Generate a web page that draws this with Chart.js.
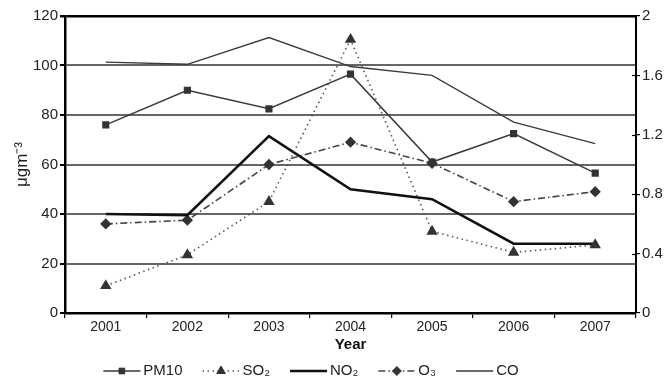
<!DOCTYPE html>
<html>
<head>
<meta charset="utf-8">
<script src="https://cdn.jsdelivr.net/npm/chart.js@4/dist/chart.umd.min.js"></script>
<style>
  html, body { margin: 0; padding: 0; background: #fff; }
  #wrap { width: 666px; height: 383px; position: relative; }
</style>
</head>
<body>
<div id="wrap"><canvas id="c"></canvas></div>
<script>
// Annual mean concentrations, 2001-2007
const years = ['2001', '2002', '2003', '2004', '2005', '2006', '2007'];
const pm10  = [76, 90, 82.5, 96.5, 61, 72.5, 56.5];
const so2   = [11, 23.5, 45, 110.5, 33, 24.5, 27.5];
const no2   = [40, 39.5, 71.5, 50, 46, 28, 28];
const o3    = [36, 37.5, 60, 69, 60.5, 45, 49];
const co    = [1.69, 1.675, 1.855, 1.66, 1.6, 1.285, 1.14];   // right axis
const seriesNames = ['PM10', 'SO₂', 'NO₂', 'O₃', 'CO'];

const FONT = "'Liberation Sans', Arial, sans-serif";

// Legend row under the axis title: line sample with its marker, then the name
const seriesLegend = {
  id: 'seriesLegend',
  afterDraw(chart) {
    const ctx = chart.ctx;
    const y = chart.height - 12;
    const lineLen = 37, textGap = 3, itemGap = 20;
    ctx.save();
    ctx.font = '15px ' + FONT;
    const items = chart.data.datasets.map(ds => ({ ds, w: ctx.measureText(ds.label).width }));
    const total = items.reduce((a, it) => a + lineLen + textGap + it.w, 0) + itemGap * (items.length - 1);
    let x = 311 - total / 2;
    items.forEach(({ ds, w }) => {
      ctx.save();
      ctx.strokeStyle = ds.borderColor;
      ctx.lineWidth = ds.borderWidth;
      ctx.setLineDash(ds.borderDash || []);
      ctx.beginPath();
      ctx.moveTo(x, y);
      ctx.lineTo(x + lineLen, y);
      ctx.stroke();
      ctx.setLineDash([]);
      if (ds.pointRadius > 0) {
        ctx.fillStyle = ds.pointBackgroundColor;
        ctx.strokeStyle = ds.pointBorderColor;
        ctx.lineWidth = 1;
        Chart.helpers.drawPoint(ctx, { pointStyle: ds.pointStyle, radius: ds.pointRadius, rotation: 0, borderWidth: 1 },
          x + lineLen / 2, y);
      }
      ctx.restore();
      ctx.fillStyle = '#222';
      ctx.textBaseline = 'middle';
      ctx.textAlign = 'left';
      ctx.fillText(ds.label, x + lineLen + textGap, y);
      x += lineLen + textGap + w + itemGap;
    });
    // right-hand axis ticks cross the axis line
    const r = chart.scales.y1;
    ctx.strokeStyle = '#000';
    ctx.lineWidth = 1.2;
    r.ticks.forEach(t => {
      const ty = Math.round(r.getPixelForValue(t.value)) + 0.5;
      ctx.beginPath();
      ctx.moveTo(r.left - 4, ty);
      ctx.lineTo(r.left, ty);
      ctx.stroke();
    });
    ctx.restore();
  }
};

new Chart(document.getElementById('c'), {
  type: 'line',
  data: {
    labels: years,
    datasets: [
      { label: seriesNames[0], data: pm10, yAxisID: 'y', borderColor: '#3a3a3a', borderWidth: 1.5,
        pointStyle: 'rect', pointRadius: 4, pointBackgroundColor: '#333', pointBorderColor: '#333', tension: 0 },
      { label: seriesNames[1], data: so2, yAxisID: 'y', borderColor: '#555', borderWidth: 1.6, borderDash: [1.5, 3.5],
        pointStyle: 'triangle', pointRadius: 5, pointBackgroundColor: '#333', pointBorderColor: '#333', tension: 0 },
      { label: seriesNames[2], data: no2, yAxisID: 'y', borderColor: '#111', borderWidth: 2.6,
        pointRadius: 0, tension: 0 },
      { label: seriesNames[3], data: o3, yAxisID: 'y', borderColor: '#444', borderWidth: 1.6, borderDash: [7, 3, 1.5, 3],
        pointStyle: 'rectRot', pointRadius: 4.5, pointBackgroundColor: '#333', pointBorderColor: '#333', tension: 0 },
      { label: seriesNames[4], data: co, yAxisID: 'y1', borderColor: '#3a3a3a', borderWidth: 1.3,
        pointRadius: 0, tension: 0 }
    ]
  },
  options: {
    responsive: true,
    maintainAspectRatio: false,
    animation: false,
    layout: { padding: { top: 16, right: 0, left: 0, bottom: 27 } },
    plugins: {
      tooltip: { enabled: false },
      legend: { display: false }
    },
    scales: {
      x: {
        offset: true,
        grid: { offset: true, drawOnChartArea: false, tickLength: 5, color: '#000', lineWidth: 1.2 },
        border: { display: true, color: '#000', width: 2.5 },
        ticks: { color: '#222', font: { family: FONT, size: 14 }, padding: 1, maxRotation: 0 },
        title: { display: true, text: 'Year', color: '#111', font: { family: FONT, size: 15, weight: 'bold' }, padding: { top: 0, bottom: 2 } },
        afterFit: (s) => { s.height = 43; }
      },
      y: {
        position: 'left',
        min: 0, max: 120,
        ticks: { stepSize: 20, color: '#222', font: { family: FONT, size: 15 }, padding: 2 },
        grid: {
          tickLength: 5,
          tickColor: '#000',
          color: (c) => (c.tick && (c.tick.value === 120 || c.tick.value === 0)) ? '#000' : '#666',
          lineWidth: (c) => (c.tick && c.tick.value === 120) ? 2.5 : 2
        },
        border: { display: true, color: '#000', width: 2.5 },
        title: { display: true, text: 'μgm⁻³', color: '#222', font: { family: FONT, size: 17 }, padding: { top: 12, bottom: 0 } },
        afterFit: (s) => { s.width = 65; }
      },
      y1: {
        position: 'right',
        min: 0, max: 2,
        ticks: { stepSize: 0.4, color: '#222', font: { family: FONT, size: 15 }, padding: 2,
                 callback: (v) => String(Math.round(v * 10) / 10) },
        grid: { drawOnChartArea: false, tickLength: 4, tickColor: '#000', lineWidth: 1.2 },
        border: { display: true, color: '#000', width: 2 },
        afterFit: (s) => { s.width = 30; }
      }
    }
  },
  plugins: [seriesLegend]
});
</script>
</body>
</html>
